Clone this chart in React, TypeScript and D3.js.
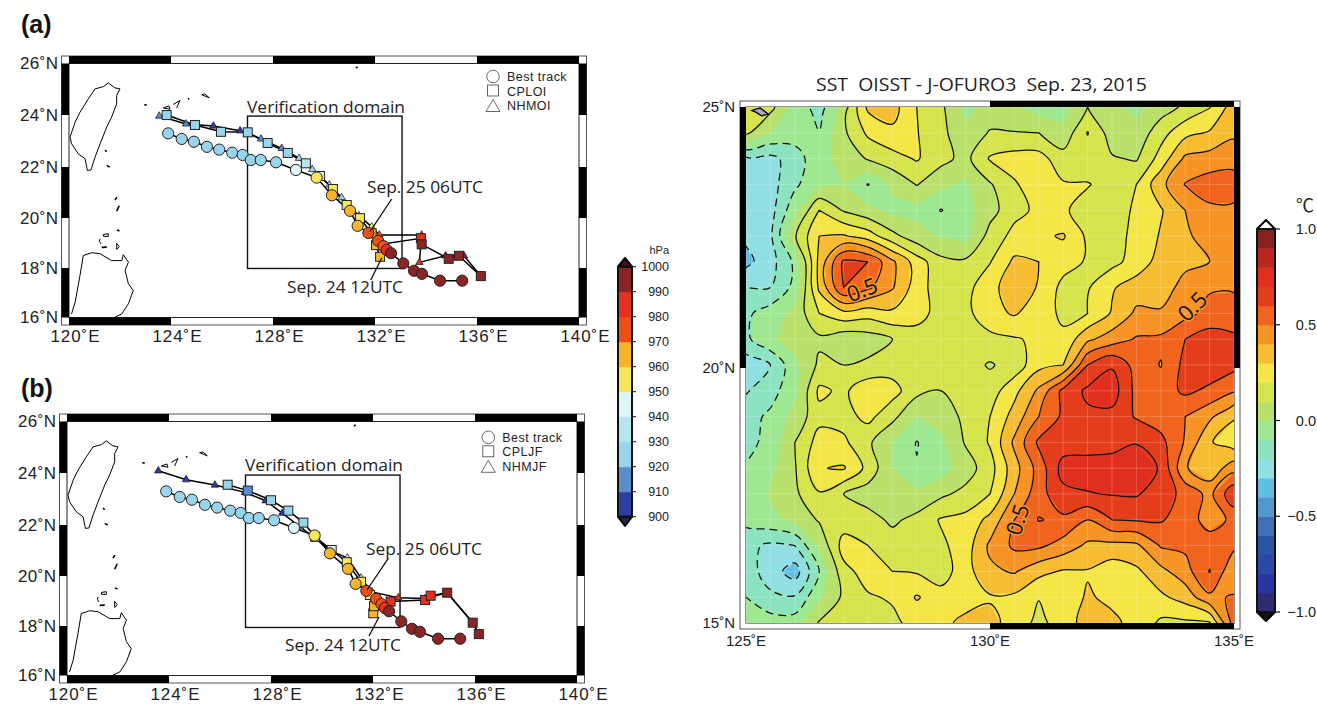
import React from 'react';
import * as d3 from 'd3';

// pressure colours, 900..1000 hPa in steps of 10
const hpaColors = ['#2e3ea0', '#5a8ecb', '#98d4ec', '#b5e5ef', '#def5f8', '#f7e85a', '#f9b428', '#f04e17', '#e5301f', '#8b2424'];
const hpaTicks = [900, 910, 920, 930, 940, 950, 960, 970, 980, 990, 1000];

// sst difference colours, -1..1 in steps of 0.1
const sstColors = ['#2e2c70', '#2a35a0', '#2c4aa5', '#2a55a5', '#4070b5', '#5099cc', '#62bfe3', '#90dfe3', '#8ce3c0', '#9de890',
  '#b8e06a', '#d5e34d', '#f3e646', '#f6bd32', '#f79426', '#f0641e', '#e43d1c', '#e02f1e', '#b8261f', '#862222'];
const sstTicks = [1, 0.5, 0, -0.5, -1];

// [lon, lat, hPa]
const bestTrack = [
  [123.89, 23.25, 925], [124.42, 23.03, 925], [124.9, 22.92, 925], [125.41, 22.72, 925], [125.89, 22.61, 925],
  [126.4, 22.49, 925], [126.81, 22.4, 925], [127.13, 22.2, 925], [127.52, 22.2, 925], [128.12, 22.11, 925],
  [128.9, 21.81, 945], [129.71, 21.51, 955], [130.31, 20.81, 965], [131.02, 20.2, 965], [131.32, 19.61, 965],
  [131.74, 19.33, 975], [132.12, 19.02, 975], [132.33, 18.81, 975], [132.46, 18.66, 985], [132.63, 18.53, 995],
  [133.11, 18.13, 995], [133.53, 17.84, 995], [133.84, 17.72, 995], [134.55, 17.45, 995], [135.42, 17.45, 995],
];
const cploi = [
  [123.83, 23.97, 925], [124.94, 23.58, 925], [125.96, 23.31, 925], [127.01, 23.29, 925], [127.79, 22.87, 925],
  [128.58, 22.48, 925], [129.29, 22.07, 935], [129.84, 21.57, 945], [130.35, 21.06, 955], [130.89, 20.43, 955],
  [131.41, 19.91, 955], [131.87, 19.31, 965], [132.2, 18.39, 965], [132.04, 18.85, 965], [133.8, 19.12, 985],
  [133.83, 18.88, 995], [134.89, 18.31, 995], [135.29, 18.43, 995], [136.15, 17.63, 995],
];
const nhmoi = [
  [123.54, 23.93, 915], [124.59, 23.62, 915], [125.66, 23.54, 905], [126.71, 23.35, 905], [127.53, 23.03, 915],
  [128.34, 22.66, 915], [129.02, 22.27, 925], [129.54, 21.83, 925], [130.21, 21.22, 925], [130.69, 20.72, 925],
  [131.37, 20.01, 935], [131.87, 19.57, 955], [132.17, 19.25, 975], [133.83, 19.25, 985], [133.74, 18.17, 985],
  [134.77, 18.43, 995], [135.49, 18.43, 995], [136.15, 17.63, 995],
];
const cpljf = [
  [126.3, 23.51, 925], [127.09, 23.28, 915], [128.0, 22.9, 925], [128.68, 22.49, 925], [129.27, 22.02, 925],
  [129.73, 21.46, 925], [130.38, 20.94, 945], [130.97, 20.46, 955], [131.53, 19.69, 955], [131.88, 19.17, 955],
  [132.01, 18.45, 965], [132.04, 18.73, 965], [132.69, 18.91, 985], [134.04, 18.97, 985], [134.26, 19.14, 985],
  [134.91, 19.26, 995], [135.91, 18.08, 995], [136.15, 17.63, 995],
];
const nhmjf = [
  [123.58, 24.06, 905], [124.67, 23.71, 905], [125.8, 23.5, 905], [126.98, 23.21, 905], [127.79, 22.88, 905],
  [128.44, 22.39, 905], [129.14, 21.85, 915], [129.73, 21.41, 925], [130.35, 20.9, 935], [130.99, 20.63, 945],
  [131.53, 19.84, 955], [131.96, 19.29, 965], [132.99, 19.06, 985], [134.04, 19.03, 985], [134.91, 19.26, 995],
  [135.91, 18.08, 995], [136.15, 17.63, 995],
];

const taiwan = [
  [121.54, 25.24], [121.8, 25.04], [122.0, 25.0], [121.87, 24.74], [121.87, 24.41], [121.67, 23.89], [121.48, 23.5],
  [121.22, 22.84], [121.02, 22.31], [120.86, 21.81], [120.72, 21.79], [120.63, 22.25], [120.37, 22.44], [120.1, 22.84],
  [120.04, 23.1], [120.24, 23.69], [120.43, 24.08], [120.76, 24.61], [121.02, 25.0], [121.35, 25.09], [121.54, 25.24],
];
const luzon = [
  [120.1, 16.14], [120.24, 16.6], [120.43, 17.65], [120.56, 18.44], [120.89, 18.55], [121.22, 18.51], [121.67, 18.24],
  [122.07, 18.24], [122.13, 18.47], [122.33, 18.18], [122.2, 17.85], [122.33, 17.33], [122.52, 17.06], [122.33, 16.54],
  [122.07, 16.14], [121.74, 15.98],
];
const islands = [
  [[125.2, 24.77], [125.5, 24.65], [125.33, 24.8], [125.2, 24.77]],
  [[124.09, 24.39], [124.35, 24.54], [124.22, 24.25]],
  [[123.7, 24.25], [123.92, 24.33], [123.96, 24.2], [123.7, 24.25]],
  [[124.66, 24.61], [124.72, 24.61]],
  [[122.95, 24.37], [123.05, 24.37]],
  [[121.42, 22.6], [121.47, 22.52]],
  [[121.48, 21.99], [121.6, 21.92]],
  [[121.8, 20.62], [121.88, 20.74]],
  [[121.97, 20.4], [121.87, 20.19]],
  [[121.88, 19.45], [121.98, 19.41]],
  [[121.35, 19.27], [121.54, 19.3], [121.54, 19.19], [121.35, 19.2], [121.35, 19.27]],
  [[121.22, 19.1], [121.19, 19.0], [121.25, 18.9]],
  [[121.28, 18.76], [121.48, 18.77]],
  [[121.87, 18.92], [121.97, 18.79], [121.87, 18.68], [121.87, 18.92]],
  [[131.25, 25.82], [131.32, 25.87]],
];
const sstIsland = [[125.12, 24.93], [125.2, 24.96], [125.29, 24.98], [125.46, 24.86], [125.32, 24.83], [125.2, 24.9]];

// OISST minus J-OFURO3, 0.5 deg in lon (125..135), 0.25 deg in lat (25..20..15)
const sstGrid = [
  [0.17, 0.13, -0.03, -0.15, 0.05, 0.32, 0.34, 0.2, 0.12, -0.03, 0.03, 0.01, -0.05, -0.05, 0.1, 0.03, -0.03, 0.05, 0.12, 0.195, 0.35],
  [0.12, 0.0, -0.05, -0.095, 0.08, 0.22, 0.28, 0.205, 0.13, 0.02, 0.11, 0.105, 0.1, 0.03, 0.205, 0.05, 0.03, 0.16, 0.27, 0.31, 0.38],
  [-0.22, -0.23, -0.15, -0.03, 0.03, 0.11, 0.16, 0.21, 0.13, 0.07, 0.21, 0.24, 0.24, 0.14, 0.15, 0.11, 0.09, 0.24, 0.42, 0.44, 0.46],
  [-0.25, -0.24, -0.12, -0.02, 0.0, -0.105, 0.02, 0.105, 0.03, -0.02, 0.09, 0.19, 0.25, 0.21, 0.205, 0.17, 0.2, 0.37, 0.505, 0.55, 0.55],
  [-0.28, -0.24, -0.03, 0.2, 0.09, 0.03, -0.03, -0.03, -0.105, -0.03, 0.06, 0.17, 0.22, 0.21, 0.17, 0.17, 0.21, 0.29, 0.4, 0.48, 0.48],
  [-0.28, -0.22, 0.09, 0.3, 0.31, 0.25, 0.13, 0.04, -0.01, -0.04, 0.14, 0.23, 0.28, 0.31, 0.18, 0.17, 0.22, 0.31, 0.38, 0.45, 0.47],
  [-0.33, -0.24, -0.08, 0.33, 0.62, 0.6, 0.42, 0.25, 0.13, 0.12, 0.195, 0.32, 0.3, 0.24, 0.19, 0.17, 0.24, 0.34, 0.38, 0.4, 0.45],
  [-0.2, -0.2, -0.07, 0.32, 0.6, 0.52, 0.41, 0.25, 0.14, 0.17, 0.26, 0.37, 0.29, 0.17, 0.19, 0.29, 0.35, 0.36, 0.43, 0.49, 0.49],
  [-0.12, -0.05, 0.03, 0.2, 0.27, 0.24, 0.28, 0.25, 0.15, 0.17, 0.27, 0.31, 0.25, 0.18, 0.2, 0.31, 0.42, 0.41, 0.47, 0.53, 0.54],
  [-0.12, -0.02, 0.05, 0.08, 0.03, 0.05, 0.1, 0.14, 0.15, 0.16, 0.17, 0.19, 0.22, 0.22, 0.38, 0.45, 0.51, 0.52, 0.6, 0.65, 0.62],
  [-0.26, -0.2, -0.03, 0.12, 0.1, 0.12, 0.15, 0.16, 0.16, 0.14, 0.09, 0.14, 0.27, 0.3, 0.6, 0.69, 0.56, 0.495, 0.63, 0.66, 0.63],
  [-0.21, -0.14, -0.03, 0.22, 0.18, 0.27, 0.24, 0.13, 0.1, 0.16, 0.15, 0.27, 0.42, 0.63, 0.72, 0.75, 0.57, 0.55, 0.62, 0.58, 0.51],
  [-0.14, -0.08, 0.03, 0.17, 0.16, 0.23, 0.13, 0.0, 0.03, 0.13, 0.2, 0.34, 0.5, 0.62, 0.68, 0.67, 0.59, 0.55, 0.5, 0.42, 0.31],
  [-0.13, -0.07, 0.1, 0.24, 0.22, 0.12, 0.0, -0.105, -0.02, 0.11, 0.21, 0.42, 0.62, 0.65, 0.66, 0.67, 0.695, 0.63, 0.49, 0.31, 0.24],
  [-0.09, -0.03, 0.09, 0.295, 0.31, 0.17, 0.0, -0.095, -0.05, 0.05, 0.16, 0.36, 0.54, 0.74, 0.74, 0.74, 0.76, 0.69, 0.41, 0.33, 0.46],
  [-0.05, 0.01, 0.08, 0.19, 0.1, 0.05, 0.03, 0.02, 0.08, 0.13, 0.2, 0.4, 0.56, 0.672, 0.695, 0.705, 0.71, 0.65, 0.57, 0.47, 0.68],
  [-0.07, -0.03, 0.03, 0.11, 0.15, 0.14, 0.08, 0.13, 0.21, 0.23, 0.33, 0.5, 0.605, 0.58, 0.5, 0.6, 0.61, 0.61, 0.55, 0.46, 0.52],
  [-0.17, -0.22, -0.2, 0.02, 0.24, 0.2, 0.15, 0.16, 0.18, 0.25, 0.42, 0.52, 0.52, 0.46, 0.38, 0.37, 0.38, 0.51, 0.52, 0.55, 0.52],
  [-0.15, -0.25, -0.35, -0.1, 0.17, 0.24, 0.2, 0.19, 0.15, 0.26, 0.38, 0.41, 0.33, 0.29, 0.293, 0.24, 0.28, 0.37, 0.46, 0.605, 0.42],
  [-0.1, -0.18, -0.19, -0.02, 0.12, 0.19, 0.21, 0.31, 0.24, 0.25, 0.29, 0.28, 0.205, 0.25, 0.31, 0.28, 0.25, 0.28, 0.34, 0.48, 0.51],
  [-0.07, -0.05, -0.05, 0.11, 0.15, 0.16, 0.18, 0.23, 0.27, 0.33, 0.33, 0.26, 0.17, 0.25, 0.34, 0.32, 0.27, 0.18, 0.18, 0.19, 0.55],
];

const SANS = '"Liberation Sans", Arial, sans-serif';
const MYRIAD = '"Open Sans", "Noto Sans", sans-serif';
const INK = '#222';

function hpaColor(p: number) {
  return hpaColors[Math.min(9, Math.floor((p - 900) / 10))];
}

// alternating black/white frame like GMT's fancy border
function Frame({ x0, x1, y0, y1, bw, xBreaks, yBreaks, topStart, leftStart, rightStart, bottomStart }: any) {
  const segs = [];
  const band = (a: number, b: number, i: number, start: number, side: string, key: string) => {
    const black = (i + start) % 2 === 0;
    if (!black) return null;
    if (side === 'top') return <rect key={key} x={a} y={y0 - bw} width={b - a} height={bw} fill="#000" />;
    if (side === 'bottom') return <rect key={key} x={a} y={y1} width={b - a} height={bw} fill="#000" />;
    if (side === 'left') return <rect key={key} x={x0 - bw} y={a} width={bw} height={b - a} fill="#000" />;
    return <rect key={key} x={x1} y={a} width={bw} height={b - a} fill="#000" />;
  };
  for (let i = 0; i < xBreaks.length - 1; i++) {
    segs.push(band(xBreaks[i], xBreaks[i + 1], i, topStart, 'top', 't' + i));
    segs.push(band(xBreaks[i], xBreaks[i + 1], i, bottomStart, 'bottom', 'b' + i));
  }
  for (let i = 0; i < yBreaks.length - 1; i++) {
    segs.push(band(yBreaks[i], yBreaks[i + 1], i, leftStart, 'left', 'l' + i));
    segs.push(band(yBreaks[i], yBreaks[i + 1], i, rightStart, 'right', 'r' + i));
  }
  return (
    <g>
      <rect x={x0 - bw} y={y0 - bw} width={x1 - x0 + 2 * bw} height={y1 - y0 + 2 * bw} fill="#fff" stroke="#555" strokeWidth={1} />
      <rect x={x0} y={y0} width={x1 - x0} height={y1 - y0} fill="#fff" stroke="#222" strokeWidth={1} />
      {segs}
    </g>
  );
}

function MapPanel({ dx, dy, tag, tagY, cpl, nhm, legend, legX, legY, ann1, ann2, boxDy }: any) {
  const x = d3.scaleLinear().domain([120, 140]).range([69 + dx, 579 + dx]);
  const y = d3.scaleLinear().domain([16, 26]).range([317.5 + dy, 63.5 + dy]);
  // the map is mercator, so the frame's ticks are not quite even
  const yTick = d3.scaleLinear().domain([16, 18, 20, 22, 24, 26]).range([317.5 + dy, 268 + dy, 218 + dy, 167 + dy, 115 + dy, 63.5 + dy]);
  const lonTicks = [120, 124, 128, 132, 136, 140];
  const latTicks = [26, 24, 22, 20, 18, 16];
  const line = d3.line().x((d: any) => x(d[0])).y((d: any) => y(d[1]));
  const tri = d3.symbol().type(d3.symbolTriangle).size(24)();
  return (
    <g>
      <Frame x0={x(120)} x1={x(140)} y0={y(26)} y1={y(16)} bw={7.5}
        xBreaks={lonTicks.map(x)} yBreaks={latTicks.map(yTick)}
        topStart={0} bottomStart={0} leftStart={0} rightStart={0} />
      <clipPath id={'clip' + tag}><rect x={x(120)} y={y(26)} width={x(140) - x(120)} height={y(16) - y(26)} /></clipPath>
      <g clipPath={`url(#clip${tag})`} fill="none" stroke="#000" strokeWidth={1}>
        <path d={line(taiwan as any)!} />
        <path d={line(luzon as any)!} />
        {islands.map((d, i) => <path key={i} d={line(d as any)!} strokeWidth={d.length === 2 ? 1.6 : 1} />)}
      </g>
      {lonTicks.map(d => (
        <text key={d} x={x(d) + 6} y={342 + dy} textAnchor="middle" fontFamily={SANS} fontSize={17} fill={INK} textLength={49} lengthAdjust="spacing">{d}˚E</text>
      ))}
      {latTicks.map(d => (
        <text key={d} x={58 + dx} y={yTick(d) + 5.5} textAnchor="end" fontFamily={SANS} fontSize={17} fill={INK} textLength={38} lengthAdjust="spacing">{d}˚N</text>
      ))}
      <text x={21} y={tagY} fontFamily={SANS} fontWeight="bold" fontSize={25} fill="#111">{tag}</text>

      <rect x={x(127)} y={y(23.95) + boxDy} width={x(133.06) - x(127)} height={y(17.95) - y(23.95)} fill="none" stroke="#111" strokeWidth={1.4} />
      <text x={247 + dx} y={113 + dy} fontFamily={MYRIAD} fontSize={17} fill={INK} textLength={158} lengthAdjust="spacingAndGlyphs">Verification domain</text>

      <path d={line(nhm as any)!} fill="none" stroke="#000" strokeWidth={1.5} />
      <path d={line(cpl as any)!} fill="none" stroke="#000" strokeWidth={1.5} />
      <path d={line(bestTrack as any)!} fill="none" stroke="#000" strokeWidth={1.5} />
      {nhm.map((d: number[], i: number) => (
        <path key={i} d={tri!} transform={`translate(${x(d[0])},${y(d[1])})`} fill={hpaColor(d[2])} stroke="#111" strokeWidth={0.7} />
      ))}
      {cpl.map((d: number[], i: number) => (
        <rect key={i} x={x(d[0]) - 4.5} y={y(d[1]) - 4.5} width={9} height={9} fill={hpaColor(d[2])} stroke="#222" strokeWidth={1} />
      ))}
      {bestTrack.map((d, i) => (
        <circle key={i} cx={x(d[0])} cy={y(d[1])} r={5.6} fill={hpaColor(d[2])} stroke="#222" strokeWidth={1} />
      ))}

      <path d={ann1.line} stroke="#111" strokeWidth={1.3} fill="none" />
      <path d={ann2.line} stroke="#111" strokeWidth={1.3} fill="none" />
      <text x={ann1.x} y={ann1.y} fontFamily={MYRIAD} fontSize={17} fill={INK} textLength={116} lengthAdjust="spacingAndGlyphs">Sep. 25 06UTC</text>
      <text x={ann2.x} y={ann2.y} fontFamily={MYRIAD} fontSize={17} fill={INK} textLength={116} lengthAdjust="spacingAndGlyphs">Sep. 24 12UTC</text>

      <circle cx={legX} cy={legY} r={6.3} fill="#fff" stroke="#444" strokeWidth={0.8} />
      <rect x={legX - 5.5} y={legY + 8.5} width={11} height={11} fill="#fff" stroke="#444" strokeWidth={0.8} />
      <path d={`M${legX - 7},${legY + 35}L${legX},${legY + 23}L${legX + 7},${legY + 35}Z`} fill="#fff" stroke="#444" strokeWidth={0.8} />
      {legend.map((t: string, i: number) => (
        <text key={t} x={legX + 14} y={legY + 4.5 + i * 14.6} fontFamily={SANS} fontSize={12.5} letterSpacing={0.45} fill={INK}>{t}</text>
      ))}
    </g>
  );
}

function HpaBar() {
  const y = d3.scaleLinear().domain([900, 1000]).range([516.7, 266.7]);
  const x0 = 618, x1 = 632;
  return (
    <g>
      {hpaColors.map((c, i) => (
        <rect key={c} x={x0} y={y(900 + (i + 1) * 10)} width={x1 - x0} height={y(900) - y(910) + 0.5} fill={c} />
      ))}
      <path d={`M${x0},266.7L${(x0 + x1) / 2},258L${x1},266.7Z`} fill="#3a1a1a" stroke="#000" strokeWidth={2} strokeLinejoin="round" />
      <path d={`M${x0},516.7L${(x0 + x1) / 2},526L${x1},516.7Z`} fill="#25234f" stroke="#000" strokeWidth={2} strokeLinejoin="round" />
      <rect x={x0} y={266.7} width={x1 - x0} height={250} fill="none" stroke="#111" strokeWidth={2} />
      {hpaTicks.map(t => (
        <g key={t}>
          <line x1={x1} x2={x1 + 4} y1={y(t)} y2={y(t)} stroke="#111" />
          <text x={669} y={y(t) + 4.5} textAnchor="end" fontFamily={SANS} fontSize={12.5} fill={INK}>{t}</text>
        </g>
      ))}
      <text x={669} y={254} textAnchor="end" fontFamily={SANS} fontSize={11} fill={INK}>hPa</text>
    </g>
  );
}

function SstPanel() {
  const x0 = 746, x1 = 1234, y0 = 107, y1 = 623;
  const nx = sstGrid[0].length, ny = sstGrid.length;
  // d3.contours puts node i at i + 0.5
  const sx = d3.scaleLinear().domain([0.5, nx - 0.5]).range([x0, x1]);
  const sy = d3.scaleLinear().domain([0.5, ny - 0.5]).range([y0, y1]);
  const lon = d3.scaleLinear().domain([125, 135]).range([x0, x1]);
  const lat = d3.scaleLinear().domain([15, 20, 25]).range([y1, 368, y0]);
  const latGrid = d3.scaleLinear().domain([15, 25]).range([y1, y0]);
  const path = d3.geoPath(d3.geoTransform({
    point(px: number, py: number) { (this as any).stream.point(sx(px), sy(py)); },
  }));
  const values = sstGrid.flat();
  const fillLevels = sstColors.map((_, i) => Math.round((-1 + i * 0.1) * 10) / 10);
  const lineLevels = fillLevels.filter(t => t !== 0 && t !== -1);
  const contour = d3.contours().size([nx, ny]).smooth(true);
  const lonGrid = d3.range(0, nx);
  const rowGrid = d3.range(0, ny);
  const islandLine = d3.line().x((d: any) => lon(d[0])).y((d: any) => latGrid(d[1])).curve(d3.curveLinearClosed);
  // the fills stay angular, only the lines are rounded
  const ringLine = d3.line().x((d: any) => sx(d[0])).y((d: any) => sy(d[1])).curve(d3.curveCatmullRomClosed.alpha(0.5));
  const roundPath = (t: number) => contour.contour(values, t).coordinates
    .flatMap((poly: any) => poly.map((ring: any) => ringLine(ring.slice(0, -1)))).join('');
  const barY = d3.scaleLinear().domain([-1, 1]).range([612, 229]);
  const bx0 = 1257, bx1 = 1275;
  return (
    <g>
      <text x={981.5} y={91} textAnchor="middle" fontFamily={MYRIAD} fontSize={18} fill={INK} textLength={331} lengthAdjust="spacingAndGlyphs" xmlSpace="preserve">SST  OISST - J-OFURO3  Sep. 23, 2015</text>
      <Frame x0={x0} x1={x1} y0={y0} y1={y1} bw={6}
        xBreaks={[125, 130, 135].map(lon)} yBreaks={[25, 20, 15].map(lat)}
        topStart={1} bottomStart={1} leftStart={0} rightStart={0} />
      <clipPath id="sstClip"><rect x={x0} y={y0} width={x1 - x0} height={y1 - y0} /></clipPath>
      <g clipPath="url(#sstClip)">
        <rect x={x0} y={y0} width={x1 - x0} height={y1 - y0} fill={sstColors[0]} />
        {fillLevels.map((t, i) => (
          <path key={t} d={path(contour.contour(values, t) as any)!} fill={sstColors[i]} />
        ))}
        <g stroke="#fff" strokeOpacity={0.2} strokeWidth={1}>
          {lonGrid.map(i => <line key={i} x1={sx(i + 0.5)} x2={sx(i + 0.5)} y1={y0} y2={y1} />)}
          {rowGrid.map(i => <line key={i} x1={x0} x2={x1} y1={sy(i + 0.5)} y2={sy(i + 0.5)} />)}
        </g>
        {lineLevels.map(t => (
          <path key={t} d={roundPath(t)} fill="none" stroke="#111" strokeWidth={1.25}
            strokeDasharray={t < 0 ? '8 5' : undefined} strokeLinejoin="round" />
        ))}
        <path d={islandLine(sstIsland as any)!} fill="#aab" stroke="#000" strokeWidth={1.3} />
      </g>
      <text transform="translate(865,297) rotate(-22)" textAnchor="middle" fontFamily={MYRIAD} fontSize={22} fill="#111" stroke="#f79426" strokeWidth={3} paintOrder="stroke">0.5</text>
      <text transform="translate(1198,312) rotate(-45)" textAnchor="middle" fontFamily={MYRIAD} fontSize={22} fill="#111" stroke="#f79426" strokeWidth={3} paintOrder="stroke">0.5</text>
      <text transform="translate(1025,522) rotate(-72)" textAnchor="middle" fontFamily={MYRIAD} fontSize={22} fill="#111" stroke="#f79426" strokeWidth={3} paintOrder="stroke">0.5</text>

      {[25, 20, 15].map(d => (
        <text key={d} x={735} y={lat(d) + 5} textAnchor="end" fontFamily={SANS} fontSize={15} fill={INK}>{d}˚N</text>
      ))}
      {[125, 130, 135].map(d => (
        <text key={d} x={lon(d)} y={646} textAnchor="middle" fontFamily={SANS} fontSize={15} fill={INK}>{d}˚E</text>
      ))}

      {sstColors.map((c, i) => (
        <rect key={c} x={bx0} y={barY(-1 + (i + 1) * 0.1)} width={bx1 - bx0} height={(barY(-1) - barY(1)) / 20 + 0.5} fill={c} />
      ))}
      <path d={`M${bx0},${barY(1)}L${(bx0 + bx1) / 2},220L${bx1},${barY(1)}Z`} fill="#fff" stroke="#000" strokeWidth={2} strokeLinejoin="round" />
      <path d={`M${bx0},${barY(-1)}L${(bx0 + bx1) / 2},621L${bx1},${barY(-1)}Z`} fill="#111" stroke="#000" strokeWidth={2} strokeLinejoin="round" />
      <rect x={bx0} y={barY(1)} width={bx1 - bx0} height={barY(-1) - barY(1)} fill="none" stroke="#111" strokeWidth={2} />
      {sstTicks.map(t => (
        <g key={t}>
          <line x1={bx1} x2={bx1 + 5} y1={barY(t)} y2={barY(t)} stroke="#111" strokeWidth={1.2} />
          <text x={1316} y={barY(t) + 5} textAnchor="end" fontFamily={SANS} fontSize={14.5} fill={INK}>{t < 0 ? '−' : ''}{Math.abs(t).toFixed(1)}</text>
        </g>
      ))}
      <text x={1305} y={212} textAnchor="middle" fontFamily='"Noto Sans CJK JP", sans-serif' fontSize={18} fill={INK}>℃</text>
    </g>
  );
}

export default function App() {
  return (
    <svg width={1317} height={704} style={{ position: 'absolute', left: 0, top: 0, background: '#fff' }}>
      <MapPanel dx={0} dy={0} tag="(a)" tagY={33} cpl={cploi} nhm={nhmoi} legend={['Best track', 'CPLOI', 'NHMOI']}
        legX={493} legY={76.5} boxDy={0.5}
        ann1={{ x: 367, y: 193, line: 'M391.7,199L370,231.7' }}
        ann2={{ x: 287, y: 292.5, line: 'M381.7,258L370.7,280' }} />
      <MapPanel dx={-2} dy={358} tag="(b)" tagY={397} cpl={cpljf} nhm={nhmjf} legend={['Best track', 'CPLJF', 'NHMJF']}
        legX={488.3} legY={437.3} boxDy={1.5}
        ann1={{ x: 366, y: 555, line: 'M388.3,558.3L367,590' }}
        ann2={{ x: 285, y: 651, line: 'M379,617L369,636' }} />
      <HpaBar />
      <SstPanel />
    </svg>
  );
}
